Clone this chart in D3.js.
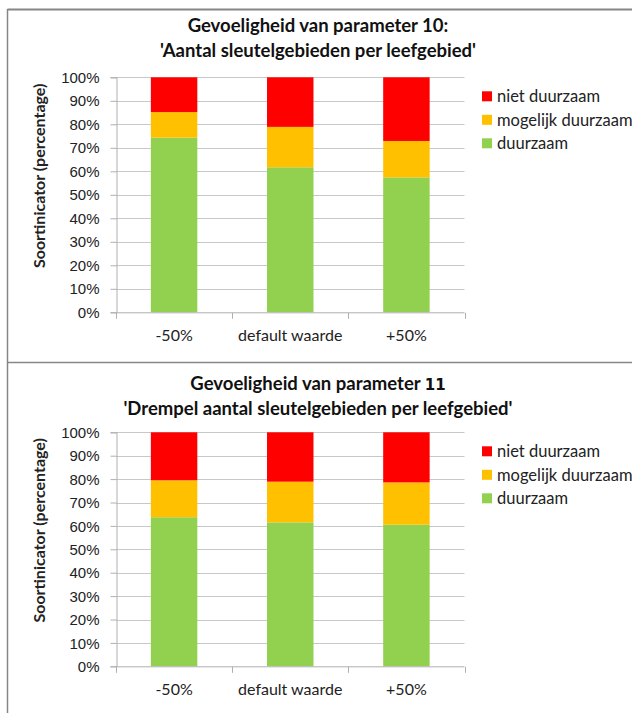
<!DOCTYPE html>
<html>
<head>
<meta charset="utf-8">
<script src="https://cdn.jsdelivr.net/npm/d3@7"></script>
<style>
  html, body { margin: 0; padding: 0; background: #fff; }
  svg { display: block; font-family: Lato, "Open Sans", sans-serif; }
</style>
</head>
<body>
<svg id="chart" width="632" height="713"></svg>
<script>
// Scenario categories shared by both panels
const categories = ["-50%", "default waarde", "+50%"];
const seriesNames = ["duurzaam", "mogelijk duurzaam", "niet duurzaam"];
const seriesColors = ["#92d050", "#ffc000", "#ff0000"];
const tickValues = [0, 10, 20, 30, 40, 50, 60, 70, 80, 90, 100];

// Parameter 10: 'Aantal sleutelgebieden per leefgebied'
const p10Duurzaam = [74.3, 61.7, 57.4];
const p10Mogelijk = [10.9, 17.2, 15.5];
const p10Niet = [14.8, 21.1, 27.1];

// Parameter 11: 'Drempel aantal sleutelgebieden per leefgebied'
const p11Duurzaam = [63.7, 61.5, 60.5];
const p11Mogelijk = [15.8, 17.4, 18.1];
const p11Niet = [20.5, 21.1, 21.4];

const svg = d3.select("#chart");

// frame lines around panels
const frame = svg.append("g").attr("stroke", "#868686").attr("fill", "none");
frame.append("line").attr("x1", 7.5).attr("x2", 632).attr("y1", 9.5).attr("y2", 9.5).attr("stroke-width", 2);
frame.append("line").attr("x1", 7.5).attr("x2", 7.5).attr("y1", 9).attr("y2", 713).attr("stroke-width", 1.5);
frame.append("line").attr("x1", 7.5).attr("x2", 632).attr("y1", 362.5).attr("y2", 362.5).attr("stroke-width", 1.5);

function drawPanel(opts) {
  const g = svg.append("g");
  const x = d3.scaleBand().domain(categories).range([116, 464.5]).paddingInner(0.6).paddingOuter(0.3);
  const xb = d3.scaleBand().domain(categories).range([116, 464.5]);
  const y = d3.scaleLinear().domain([0, 100]).range([opts.bottom, opts.top]);

  // gridlines
  g.append("g").selectAll("line").data(tickValues.filter(v => v > 0)).join("line")
    .attr("x1", 116).attr("x2", 464.5)
    .attr("y1", d => Math.round(y(d)) + 0.5).attr("y2", d => Math.round(y(d)) + 0.5)
    .attr("stroke", "#c8c8c8").attr("stroke-width", 1);

  // stacked bars
  const rows = categories.map((c, i) => ({
    cat: c, duurzaam: opts.values[0][i], "mogelijk duurzaam": opts.values[1][i], "niet duurzaam": opts.values[2][i]
  }));
  const stacked = d3.stack().keys(seriesNames)(rows);
  g.append("g").selectAll("g").data(stacked).join("g")
    .attr("fill", (d, i) => seriesColors[i])
    .selectAll("rect").data(d => d).join("rect")
    .attr("x", d => x(d.data.cat))
    .attr("width", x.bandwidth())
    .attr("y", d => y(d[1]))
    .attr("height", d => y(d[0]) - y(d[1]));

  // y axis
  const yAxis = d3.axisLeft(y).tickValues(tickValues).tickFormat(d => d + "%").tickSize(6).tickPadding(11);
  const ya = g.append("g").attr("transform", "translate(116.5,0)").call(yAxis);
  ya.select(".domain").attr("stroke", "#b0b0b0");
  ya.selectAll(".tick line").attr("stroke", "#b0b0b0");
  ya.selectAll("text").attr("font-size", 15).attr("fill", "#222").attr("dy", "0.34em");

  // x axis with ticks on category boundaries
  const xa = g.append("g").attr("transform", `translate(0,${opts.bottom + 0.5})`);
  xa.append("line").attr("x1", 116).attr("x2", 464.5).attr("stroke", "#b0b0b0");
  const bounds = categories.map(c => xb(c)).concat([464.5]);
  xa.selectAll("line.tk").data(bounds).join("line").attr("class", "tk")
    .attr("x1", d => Math.round(d) + 0.5).attr("x2", d => Math.round(d) + 0.5).attr("y1", 0).attr("y2", 6)
    .attr("stroke", "#b0b0b0");
  xa.selectAll("text").data(categories).join("text")
    .attr("x", d => xb(d) + xb.bandwidth() / 2).attr("y", 28)
    .attr("text-anchor", "middle").attr("font-size", 16).attr("fill", "#222").text(d => d);

  // y axis title
  g.append("text")
    .attr("transform", `translate(45,${(opts.top + opts.bottom) / 2 - 19}) rotate(-90)`)
    .attr("text-anchor", "middle").attr("font-size", 16).attr("font-weight", "bold").attr("fill", "#222")
    .text("Soortinicator (percentage)");

  // chart title
  const t = g.append("text").attr("text-anchor", "middle").attr("font-size", 18.5)
    .attr("font-weight", "bold").attr("fill", "#111");
  t.append("tspan").attr("x", 318).attr("y", opts.titleY).text(opts.title1[0])
    .append("tspan").attr("font-family", "'DejaVu Sans', sans-serif").attr("font-size", 15).text(opts.title1[1]);
  t.append("tspan").attr("x", 318).attr("y", opts.titleY + 25).text(opts.title2);

  // legend
  const lg = g.append("g").selectAll("g").data(seriesNames.slice().reverse()).join("g")
    .attr("transform", (d, i) => `translate(482,${opts.top + 19 + i * 23.5})`);
  lg.append("rect").attr("x", 0).attr("y", -5).attr("width", 10).attr("height", 10)
    .attr("fill", d => seriesColors[seriesNames.indexOf(d)]);
  lg.append("text").attr("x", 15).attr("y", 0).attr("dy", "0.35em")
    .attr("font-size", 16.5).attr("fill", "#222").text(d => d);
}

drawPanel({
  top: 77.3, bottom: 312.3, titleY: 32,
  title1: ["Gevoeligheid van parameter 10:", ""],
  title2: "'Aantal sleutelgebieden per leefgebied'",
  values: [p10Duurzaam, p10Mogelijk, p10Niet]
});
drawPanel({
  top: 432.3, bottom: 666.3, titleY: 390,
  title1: ["Gevoeligheid van parameter ", "11"],
  title2: "'Drempel aantal sleutelgebieden per leefgebied'",
  values: [p11Duurzaam, p11Mogelijk, p11Niet]
});
</script>
</body>
</html>
